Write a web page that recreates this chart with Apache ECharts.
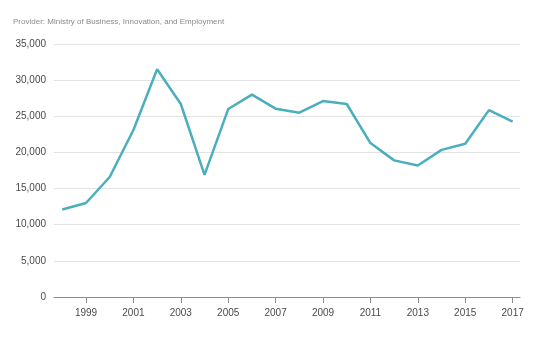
<!DOCTYPE html>
<html>
<head>
<meta charset="utf-8">
<script src="https://cdn.jsdelivr.net/npm/echarts@6/dist/echarts.min.js"></script>
<style>
html,body{margin:0;padding:0;background:#fff;}
#c{width:543px;height:338px;}
</style>
</head>
<body>
<div id="c"></div>
<script>
var years = [1998,1999,2000,2001,2002,2003,2004,2005,2006,2007,2008,2009,2010,2011,2012,2013,2014,2015,2016,2017];
var values = [12100,13000,16600,23100,31500,26700,16900,26000,28000,26050,25500,27100,26700,21300,18900,18200,20350,21200,25850,24250];
var xTickYears = [1999,2001,2003,2005,2007,2009,2011,2013,2015,2017];
var yTicks = [0,5000,10000,15000,20000,25000,30000,35000];
var titleText = 'Provider: Ministry of Business, Innovation, and Employment';

var font = '"Liberation Sans Narrow", "Liberation Sans", Arial, sans-serif';
var chart = echarts.init(document.getElementById('c'), null, {renderer:'canvas'});
chart.setOption({
  animation:false,
  backgroundColor:'#fff',
  title:{text:titleText,left:13,top:18,padding:0,textStyle:{fontFamily:font,fontSize:8,fontWeight:'normal',color:'#8a8a8a'}},
  grid:{left:54,right:23,top:44,bottom:41},
  xAxis:{
    type:'value',min:1997.65,max:2017.31,
    axisLine:{show:true,lineStyle:{color:'#8c8c8c',width:1}},
    axisTick:{show:true,length:6,lineStyle:{color:'#8c8c8c'},customValues:xTickYears},
    axisLabel:{customValues:xTickYears,formatter:function(v){return String(v);},fontFamily:font,fontSize:10,color:'#4a4a4a',margin:11},
    splitLine:{show:false}
  },
  yAxis:{
    type:'value',min:yTicks[0],max:yTicks[yTicks.length-1],interval:5000,
    axisLine:{show:false},axisTick:{show:false},
    axisLabel:{fontFamily:font,fontSize:10,color:'#4a4a4a',margin:8,formatter:function(v){return v.toString().replace(/\B(?=(\d{3})+(?!\d))/g,',');}},
    splitLine:{lineStyle:{color:'#e2e2e2',width:1}}
  },
  series:[{
    type:'line',
    data:years.map(function(y,i){return [y,values[i]];}),
    showSymbol:false,symbol:'none',
    lineStyle:{color:'#4aafbc',width:2.5},
    itemStyle:{color:'#4aafbc'}
  }]
});
</script>
</body>
</html>
